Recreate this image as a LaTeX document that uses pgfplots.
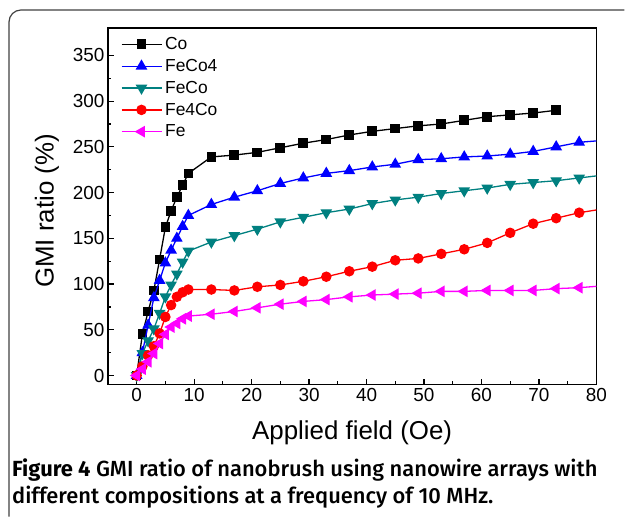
\documentclass[border=0pt]{standalone}
\usepackage{fontspec}
\setmainfont{Liberation Sans}
\newfontfamily\capbold{Fira Sans}
\IfFontExistsTF{Fira Sans Medium}
  {\newfontfamily\capfont{Fira Sans Medium}}
  {\newfontfamily\capfont{Fira Sans}}
\usepackage{pgfplots}
\usepackage{pgfplotstable}
\pgfplotsset{compat=1.18}
\definecolor{coteal}{RGB}{0,128,128}
\definecolor{comag}{RGB}{255,0,255}
\definecolor{cored}{RGB}{255,0,0}
\definecolor{coblue}{RGB}{0,0,255}

% GMI ratio (%) against applied field (Oe)
\pgfplotstableread{
x y
0 0
1 45
2 70
3 93
4 127
5 162
6 180
7 195
8 208
9 221
13 239
17 241
21 244
25 249
29 254
33 258
37 263
41 267
45 270
49 273
53 275
57 279
61 283
65 285
69 287
73 290
}\coData

\pgfplotstableread{
x y
0 0
1 25
2 55
3 85
4 104
5 123
6 137
7 150
8 163
9 175
13 187
17 195
21 202
25 210
29 216
33 221
37 224
41 228
45 231
49 236
53 237
57 239
61 240
65 242
69 245
73 250
77 255
81 257
}\feCoFourData

\pgfplotstableread{
x y
0 0
1 24
2 38
3 51
4 68
5 86
6 99
7 111
8 124
9 136
13 146
17 153
21 160
25 168
29 173
33 178
37 182
41 188
45 192
49 195
53 199
57 202
61 205
65 209
69 211
73 213
77 216
81 219
}\feCoData

\pgfplotstableread{
x y
0 0
1 10
2 22
3 32
4 46
5 64
6 77
7 86
8 91
9 94
13 94
17 93
21 97
25 99
29 103
33 108
37 114
41 119
45 126
49 128
53 133
57 138
61 145
65 156
69 166
73 172
77 178
81 182
}\feFourCoData

\pgfplotstableread{
x y
0 0
1 7
2 15
3 24
4 35
5 45
6 53
7 57
8 62
9 65
13 67
17 70
21 74
25 78
29 81
33 83
37 86
41 88
45 89
49 90
53 92
57 92
61 93
65 93
69 93
73 95
77 96
81 98
}\feData

\begin{document}
\begin{tikzpicture}
\path (0,0) rectangle (625bp,-517bp);
\draw[line width=1.2bp, black!75, rounded corners=12bp] (625bp,-10bp) -- (9bp,-10bp) -- (9bp,-517bp);
\begin{axis}[
  at={(108bp,-385bp)}, anchor=south west,
  scale only axis, width=489bp, height=357bp,
  xmin=-5, xmax=80, ymin=-10, ymax=380,
  xtick={0,10,...,80}, ytick={0,50,...,350},
  minor x tick num=1, minor y tick num=1,
  tick pos=left, tick align=inside,
  major tick length=6bp, minor tick length=3.5bp,
  axis line style={line width=1.3bp},
  every tick/.style={line width=1.2bp, black},
  ticklabel style={font=\fontsize{19}{19}\selectfont},
  /pgf/number format/assume math mode=true,
  label style={font=\fontsize{26}{26}\selectfont},
  xlabel={Applied field (Oe)},
  ylabel={GMI ratio (\%)},
  xlabel style={at={(axis description cs:0.5,-0.135)}, anchor=center},
  ylabel style={at={(axis description cs:-0.1247,0.4874)}, anchor=center},
  clip marker paths=true,
  legend style={draw=none, fill=none, at={(axis description cs:0.02,0.985)}, anchor=north west,
    font=\fontsize{17.5}{17.5}\selectfont, row sep=4.2bp, nodes={inner sep=2bp}},
  legend cell align=left,
  legend image code/.code={\draw[mark repeat=2,mark phase=2] plot coordinates {(0bp,0bp) (20bp,0bp) (41bp,0bp)};},
  every axis plot/.append style={line width=1.3bp},
]
\addplot[black, mark=square*, mark size=4.2bp] table {\coData};
\addlegendentry{Co}
\addplot[coblue, mark=triangle*, mark size=5.5bp] table {\feCoFourData};
\addlegendentry{FeCo4}
\addplot[coteal, mark=triangle*, mark size=5.5bp, mark options={rotate=180}] table {\feCoData};
\addlegendentry{FeCo}
\addplot[cored, mark=*, mark size=4.6bp] table {\feFourCoData};
\addlegendentry{Fe4Co}
\addplot[comag, mark=triangle*, mark size=5.5bp, mark options={rotate=90}] table {\feData};
\addlegendentry{Fe}
\end{axis}
\node[anchor=base west, inner sep=0pt, font=\capfont\fontsize{22}{22}\selectfont] at (12bp,-477bp)
  {{\capbold\bfseries Figure 4} GMI ratio of nanobrush using nanowire arrays with};
\node[anchor=base west, inner sep=0pt, font=\capfont\fontsize{22}{22}\selectfont] at (12bp,-504bp)
  {different compositions at a frequency of 10 MHz.};
\end{tikzpicture}
\end{document}
